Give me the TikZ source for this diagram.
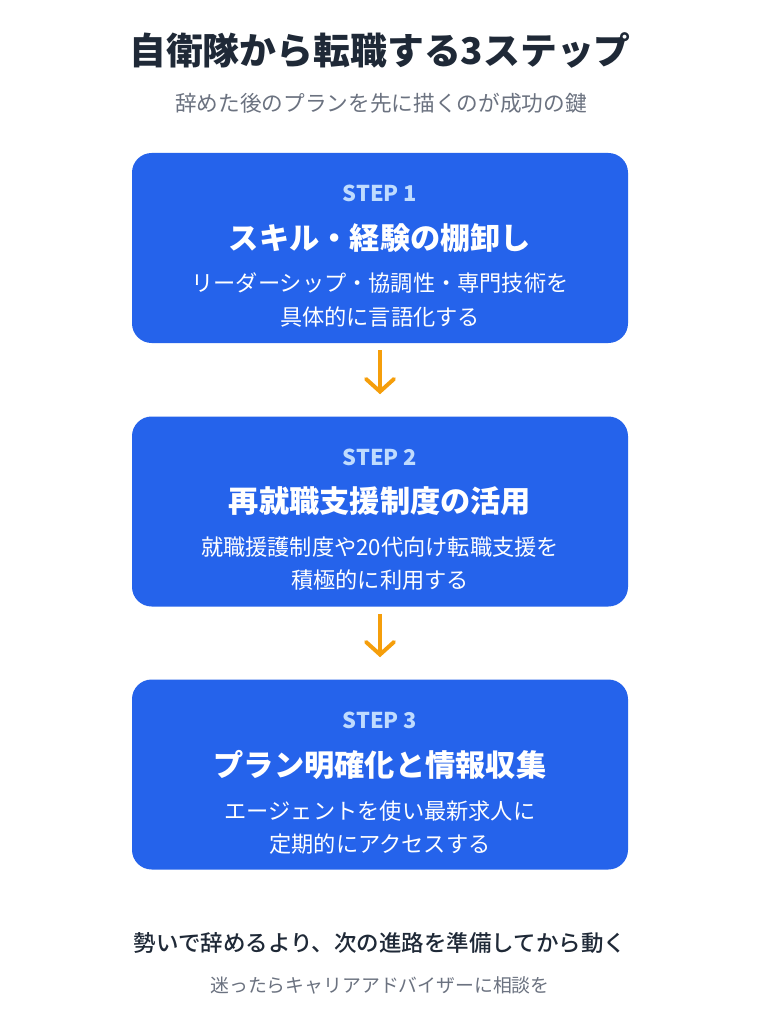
\documentclass[tikz,border=0pt]{standalone}
\usepackage{fontspec}
\setmainfont{Noto Sans CJK JP}
\newfontfamily\jpmedium{Noto Sans CJK JP Medium}
\usetikzlibrary{arrows.meta,positioning,calc}
\definecolor{stepBlue}{HTML}{2563EB}
\definecolor{stepLabel}{HTML}{BFDBFE}
\definecolor{inkDark}{HTML}{1F2937}
\definecolor{inkGray}{HTML}{6B7280}
\definecolor{arrowAmber}{HTML}{F59E0B}
\tikzset{
  step box/.style={rounded corners=14pt,fill=stepBlue,draw=none,
    minimum width=496*0.025cm,minimum height=190*0.025cm},
  step label/.style={text=stepLabel,font=\bfseries\fontsize{15.5}{18}\selectfont},
  step title/.style={text=white,font=\bfseries\fontsize{21.5}{25}\selectfont},
  step text/.style={text=white,align=center,
    font=\fontsize{15.8}{23.5}\selectfont},
  next arrow/.style={-{Straight Barb[length=9pt,width=20pt,line cap=round]},
    draw=arrowAmber,line width=2.8pt,shorten <=7*0.025cm,shorten >=22*0.025cm}
}

\begin{document}
\begin{tikzpicture}[x=0.025cm,y=-0.025cm]
    \fill[white] (0,0) rectangle (761,1024);
    \useasboundingbox (0,0) rectangle (761,1024);
    % heading
    \node[text=inkDark,font=\bfseries\fontsize{26.2}{32}\selectfont] (title) at (380,50)
      {自衛隊から転職する3ステップ};
    \node[text=inkGray,font=\fontsize{15.4}{18}\selectfont] (sub) at (381,103)
      {辞めた後のプランを先に描くのが成功の鍵};
    % steps
    \node[step box] (s1) at (380,248) {};
    \node[step box] (s2) at (380,511.5) {};
    \node[step box] (s3) at (380,774.5) {};
    \node[step label] (l1) at (380,193) {STEP 1};
    \node[step title] (t1) at (380,238) {スキル・経験の棚卸し};
    \node[step text] (d1) at (380,300)
      {リーダーシップ・協調性・専門技術を\\具体的に言語化する};
    \node[step label] (l2) at (380,457) {STEP 2};
    \node[step title] (t2) at (380,501) {再就職支援制度の活用};
    \node[step text] (d2) at (380,564)
      {就職援護制度や20代向け転職支援を\\積極的に利用する};
    \node[step label] (l3) at (380,720) {STEP 3};
    \node[step title] (t3) at (380,765) {プラン明確化と情報収集};
    \node[step text] (d3) at (380,828)
      {エージェントを使い最新求人に\\定期的にアクセスする};
    \draw[next arrow] (s1) -- (s2);
    \draw[next arrow] (s2) -- (s3);
    % closing lines
    \node[text=inkDark,font=\jpmedium\fontsize{16}{18}\selectfont] (msg) at (380,943)
      {勢いで辞めるより、次の進路を準備してから動く};
    \node[text=inkGray,font=\fontsize{13.4}{16}\selectfont] (tip) at (380,985)
      {迷ったらキャリアアドバイザーに相談を};
  \end{tikzpicture}
\end{document}
